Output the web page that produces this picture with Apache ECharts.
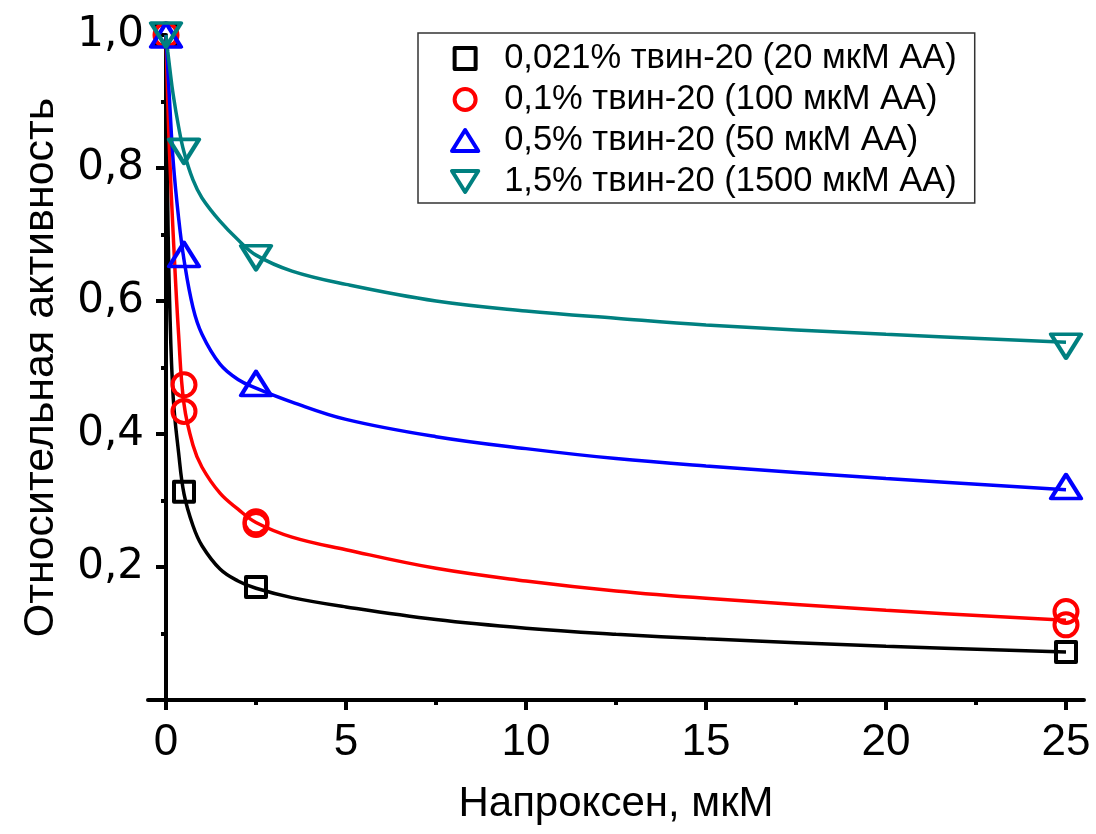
<!DOCTYPE html>
<html>
<head>
<meta charset="utf-8">
<script src="https://cdn.jsdelivr.net/npm/echarts@6/dist/echarts.min.js"></script>
<style>
  html, body { margin: 0; padding: 0; background: #fff; }
  #chart { width: 1096px; height: 834px; }
</style>
</head>
<body>
<div id="chart"></div>
<script>
// Series names (legend labels)
const NAMES = [
  '0,021% твин-20 (20 мкМ АА)',
  '0,1% твин-20 (100 мкМ АА)',
  '0,5% твин-20 (50 мкМ АА)',
  '1,5% твин-20 (1500 мкМ АА)'
];
const COLORS = ['#000000', '#ff0000', '#0000ff', '#008080'];

// Measured points: [naproxen, µM ; relative activity]
const PTS_021 = [[0, 1.0], [0.5, 0.313], [2.5, 0.170], [25, 0.072]];
const PTS_01  = [[0, 1.0], [0.5, 0.474], [0.5, 0.434], [2.5, 0.268], [2.5, 0.264], [25, 0.133], [25, 0.113]];
const PTS_05  = [[0, 1.0], [0.5, 0.670], [2.5, 0.476], [25, 0.321]];
const PTS_15  = [[0, 1.0], [0.5, 0.825], [2.5, 0.665], [25, 0.532]];

// Fitted curves sampled at these concentrations
const CURVE_X   = [0, 0.05, 0.1, 0.2, 0.35, 0.5, 0.75, 1, 1.5, 2, 2.5, 3.5, 5, 7.5, 10, 12.5, 15, 20, 25];
const CURVE_021 = [1.0, 0.74, 0.60, 0.455, 0.372, 0.310, 0.262, 0.232, 0.197, 0.179, 0.168, 0.154, 0.140, 0.121, 0.108, 0.099, 0.092, 0.081, 0.072];
const CURVE_01  = [1.0, 0.90, 0.82, 0.70, 0.55, 0.445, 0.383, 0.350, 0.311, 0.287, 0.267, 0.245, 0.226, 0.198, 0.179, 0.164, 0.153, 0.135, 0.120];
const CURVE_05  = [1.0, 0.95, 0.90, 0.81, 0.725, 0.662, 0.590, 0.550, 0.505, 0.482, 0.469, 0.448, 0.422, 0.396, 0.378, 0.363, 0.352, 0.333, 0.316];
const CURVE_15  = [1.0, 0.975, 0.952, 0.91, 0.862, 0.824, 0.782, 0.755, 0.720, 0.692, 0.669, 0.645, 0.625, 0.600, 0.585, 0.574, 0.564, 0.550, 0.538];

// Axis ticks
const X_MAJOR = [0, 5, 10, 15, 20, 25];
const X_MINOR = [2.5, 7.5, 12.5, 17.5, 22.5];

const FONT = "'Liberation Sans', Arial, sans-serif";
const FONT_WIDE = "'DejaVu Sans', 'Liberation Sans', sans-serif";

const SYM_SQUARE = 'path://M0,0 L10,0 L10,10 L0,10 Z';
const SYM_CIRCLE = 'circle';
const SYM_TRI_UP = 'path://M10,0 L20,16 L0,16 Z';
const SYM_TRI_DN = 'path://M0,0 L20,0 L10,16 Z';

const pointSets = [PTS_021, PTS_01, PTS_05, PTS_15];
const curveSets = [CURVE_021, CURVE_01, CURVE_05, CURVE_15];
const symbols = [SYM_SQUARE, SYM_CIRCLE, SYM_TRI_UP, SYM_TRI_DN];
const sizes = [20, 23, [30, 24], [30, 24]];

const fmtComma = v => v.toFixed(1).replace('.', ',');

const series = [];
curveSets.forEach((c, i) => {
  series.push({
    name: 'fit ' + i,
    type: 'line',
    xAxisIndex: 0, yAxisIndex: 0,
    data: CURVE_X.map((x, k) => [x, c[k]]),
    showSymbol: false,
    smooth: 0.4,
    lineStyle: { color: COLORS[i], width: 3.5 },
    silent: true,
    z: 2
  });
});
pointSets.forEach((p, i) => {
  series.push({
    name: NAMES[i],
    type: 'scatter',
    xAxisIndex: 0, yAxisIndex: 0,
    data: p,
    symbol: symbols[i],
    symbolSize: sizes[i],
    itemStyle: {
      color: 'rgba(0,0,0,0)',
      borderColor: COLORS[i],
      borderWidth: 4,
      borderJoin: 'round',
      opacity: 1
    },
    z: 5 + i
  });
});

const chart = echarts.init(document.getElementById('chart'), null, { renderer: 'canvas' });
chart.setOption({
  animation: false,
  backgroundColor: '#ffffff',
  grid: { left: 148, right: 12, top: 35, bottom: 134, containLabel: false, outerBoundsMode: 'none' },
  legend: {
    orient: 'vertical',
    left: 418,
    top: 33,
    padding: [8, 18, 4, 32],
    itemGap: 6,
    itemWidth: 68,
    itemHeight: 21,
    borderColor: '#333333',
    borderWidth: 1.5,
    borderRadius: 0,
    backgroundColor: '#ffffff',
    textStyle: { fontFamily: FONT, fontSize: 34.5, color: '#000' },
    itemStyle: { borderWidth: 4 },
    selectedMode: false,
    data: NAMES.map((n, i) => ({
      name: n,
      icon: symbols[i],
      itemStyle: { color: 'rgba(0,0,0,0)', borderColor: COLORS[i], borderWidth: 4, borderJoin: 'round' }
    }))
  },
  xAxis: [
    {
      type: 'value', min: -0.5, max: 25.5, position: 'bottom',
      name: 'Напроксен, мкМ', nameLocation: 'middle', nameGap: 83,
      nameTextStyle: { fontFamily: FONT, fontSize: 42, color: '#000' },
      axisLine: { show: true, onZero: true, onZeroAxisIndex: 0, lineStyle: { color: '#000', width: 4 } },
      axisTick: { show: true, customValues: X_MAJOR, length: 10, lineStyle: { color: '#000', width: 4 } },
      axisLabel: { customValues: X_MAJOR, fontFamily: FONT, fontSize: 44, color: '#000', margin: 21, formatter: v => String(v) },
      splitLine: { show: false }
    },
    {
      type: 'value', min: -0.5, max: 25.5, position: 'bottom',
      axisLine: { show: false, onZero: true, onZeroAxisIndex: 0 },
      axisTick: { show: true, customValues: X_MINOR, length: 5, lineStyle: { color: '#000', width: 4 } },
      axisLabel: { show: false },
      splitLine: { show: false }
    }
  ],
  yAxis: [
    {
      type: 'value', min: 0, max: 1, interval: 0.2,
      name: 'Относительная активность', nameLocation: 'middle', nameGap: 85,
      nameTextStyle: { fontFamily: FONT, fontSize: 43, color: '#000' },
      axisLine: { show: true, onZero: true, onZeroAxisIndex: 0, lineStyle: { color: '#000', width: 4 } },
      axisTick: { show: true, length: 10, lineStyle: { color: '#000', width: 4 } },
      minorTick: { show: true, splitNumber: 2, length: 5, lineStyle: { color: '#000', width: 4 } },
      axisLabel: { showMinLabel: false, fontFamily: FONT_WIDE, fontSize: 42, color: '#000', margin: 4, formatter: fmtComma },
      splitLine: { show: false }
    }
  ],
  series: series
});
</script>
</body>
</html>
